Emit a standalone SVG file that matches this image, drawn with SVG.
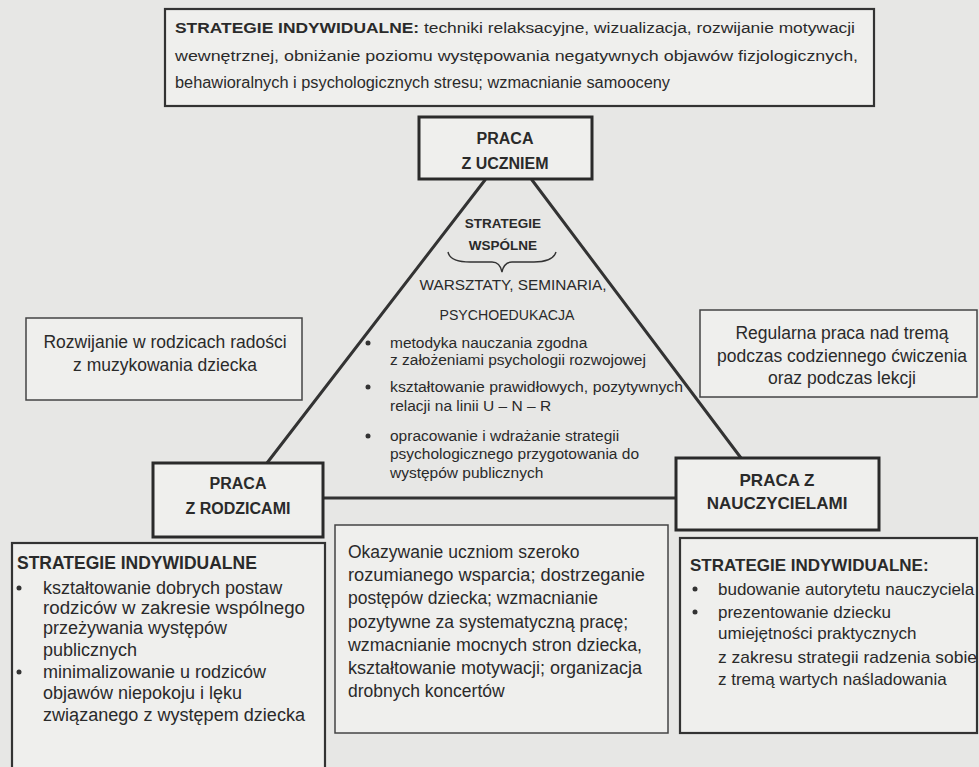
<svg xmlns="http://www.w3.org/2000/svg" width="979" height="767" viewBox="0 0 979 767">
<style>
text{font-family:"Liberation Sans",Arial,sans-serif;fill:#2a2a2a}
.b{font-weight:bold}
.c{text-anchor:middle}
.box{fill:#efefed;stroke:#333;stroke-width:2.2}
.thin{fill:#efefed;stroke:#444;stroke-width:1.5}
.thick{fill:#efefed;stroke:#2a2a2a;stroke-width:3}
.con{stroke:#333;stroke-width:3;fill:none;stroke-linecap:round}
.dot{fill:#333}
</style>
<rect x="0" y="0" width="979" height="767" fill="#e7e7e5"/>

<g id="connectors">
<line class="con" x1="485" y1="180" x2="267" y2="463"/>
<line class="con" x1="532" y1="180" x2="741" y2="458"/>
<line class="con" x1="323" y1="498" x2="676" y2="498"/>
</g>

<g id="top-strategies">
<rect class="box" x="165" y="9" width="709" height="97"/>
<text x="175" y="33" font-size="15.5" textLength="680" lengthAdjust="spacingAndGlyphs"><tspan class="b">STRATEGIE INDYWIDUALNE:</tspan> techniki relaksacyjne, wizualizacja, rozwijanie motywacji</text>
<text x="175" y="61" font-size="15.5" textLength="683" lengthAdjust="spacingAndGlyphs">wewnętrznej, obniżanie poziomu występowania negatywnych objawów fizjologicznych,</text>
<text x="175" y="88" font-size="16" textLength="495" lengthAdjust="spacingAndGlyphs">behawioralnych i psychologicznych stresu; wzmacnianie samooceny</text>
</g>

<g id="praca-z-uczniem">
<rect class="thick" x="419" y="117" width="173" height="62"/>
<text class="b c" x="505" y="144" font-size="16">PRACA</text>
<text class="b c" x="505" y="169" font-size="16">Z UCZNIEM</text>
</g>

<g id="strategie-wspolne">
<text class="b c" x="503" y="228" font-size="13.5">STRATEGIE</text>
<text class="b c" x="503" y="250" font-size="13.5">WSPÓLNE</text>
<path d="M448 252 Q450 262 470 262 L492 262 Q500 262 502 272 Q504 262 512 262 L534 262 Q553 262 556 252" fill="none" stroke="#333" stroke-width="1.4"/>
<text class="c" x="513" y="290" font-size="14.5" textLength="187" lengthAdjust="spacingAndGlyphs">WARSZTATY, SEMINARIA,</text>
<text class="c" x="507" y="320" font-size="14.5" textLength="135" lengthAdjust="spacingAndGlyphs">PSYCHOEDUKACJA</text>
<circle class="dot" cx="368" cy="343" r="2.5"/>
<text x="390" y="348" font-size="15.5">metodyka nauczania zgodna</text>
<text x="390" y="365" font-size="15.5">z założeniami psychologii rozwojowej</text>
<circle class="dot" cx="368" cy="387" r="2.5"/>
<text x="390" y="392" font-size="15.5" textLength="293" lengthAdjust="spacingAndGlyphs">kształtowanie prawidłowych, pozytywnych</text>
<text x="390" y="411" font-size="15.5">relacji na linii U – N – R</text>
<circle class="dot" cx="368" cy="436" r="2.5"/>
<text x="390" y="441" font-size="15.5">opracowanie i wdrażanie strategii</text>
<text x="390" y="459" font-size="15.5">psychologicznego przygotowania do</text>
<text x="390" y="478" font-size="15.5">występów publicznych</text>
</g>

<g id="rozwijanie">
<rect class="thin" x="26" y="318" width="276" height="82"/>
<text class="c" x="165" y="348" font-size="17.5">Rozwijanie w rodzicach radości</text>
<text class="c" x="165" y="371" font-size="17.5">z muzykowania dziecka</text>
</g>

<g id="regularna">
<rect class="thin" x="700" y="310" width="277" height="87"/>
<text class="c" x="842" y="339" font-size="17.5">Regularna praca nad tremą</text>
<text class="c" x="842" y="362" font-size="17.5">podczas codziennego ćwiczenia</text>
<text class="c" x="842" y="384" font-size="17.5">oraz podczas lekcji</text>
</g>

<g id="praca-z-rodzicami">
<rect class="thick" x="153" y="463" width="170" height="74"/>
<text class="b c" x="238" y="489" font-size="16">PRACA</text>
<text class="b c" x="238" y="514" font-size="16">Z RODZICAMI</text>
</g>

<g id="praca-z-nauczycielami">
<rect class="thick" x="676" y="458" width="203" height="72"/>
<text class="b c" x="777" y="486" font-size="17">PRACA Z</text>
<text class="b c" x="777" y="509" font-size="17">NAUCZYCIELAMI</text>
</g>

<g id="rodzice-strategie">
<rect class="box" x="12" y="543" width="313" height="240"/>
<text class="b" x="17" y="569" font-size="17.5">STRATEGIE INDYWIDUALNE</text>
<circle class="dot" cx="19" cy="588" r="2.5"/>
<text x="43" y="594" font-size="18">kształtowanie dobrych postaw</text>
<text x="43" y="614" font-size="18" textLength="262" lengthAdjust="spacingAndGlyphs">rodziców w zakresie wspólnego</text>
<text x="43" y="634" font-size="18">przeżywania występów</text>
<text x="43" y="656" font-size="18">publicznych</text>
<circle class="dot" cx="19" cy="672" r="2.5"/>
<text x="43" y="678" font-size="18">minimalizowanie u rodziców</text>
<text x="43" y="699" font-size="18">objawów niepokoju i lęku</text>
<text x="43" y="721" font-size="18" textLength="262" lengthAdjust="spacingAndGlyphs">związanego z występem dziecka</text>
</g>

<g id="wsparcie">
<rect class="thin" x="335" y="525" width="333" height="208"/>
<text x="348" y="558" font-size="17.5">Okazywanie uczniom szeroko</text>
<text x="348" y="581" font-size="17.5" textLength="297" lengthAdjust="spacingAndGlyphs">rozumianego wsparcia; dostrzeganie</text>
<text x="348" y="604" font-size="17.5">postępów dziecka; wzmacnianie</text>
<text x="348" y="628" font-size="17.5">pozytywne za systematyczną pracę;</text>
<text x="348" y="651" font-size="17.5" textLength="294" lengthAdjust="spacingAndGlyphs">wzmacnianie mocnych stron dziecka,</text>
<text x="348" y="674" font-size="17.5" textLength="294" lengthAdjust="spacingAndGlyphs">kształtowanie motywacji; organizacja</text>
<text x="348" y="697" font-size="17.5">drobnych koncertów</text>
</g>

<g id="nauczyciele-strategie">
<rect class="box" x="680" y="538" width="297" height="195"/>
<text class="b" x="690" y="571" font-size="17">STRATEGIE INDYWIDUALNE:</text>
<circle class="dot" cx="695" cy="589" r="2.5"/>
<text x="718" y="595" font-size="17">budowanie autorytetu nauczyciela</text>
<circle class="dot" cx="695" cy="612" r="2.5"/>
<text x="718" y="618" font-size="17">prezentowanie dziecku</text>
<text x="718" y="639" font-size="17">umiejętności praktycznych</text>
<text x="718" y="663" font-size="17" textLength="259" lengthAdjust="spacingAndGlyphs">z zakresu strategii radzenia sobie</text>
<text x="718" y="685" font-size="17">z tremą wartych naśladowania</text>
</g>
</svg>
